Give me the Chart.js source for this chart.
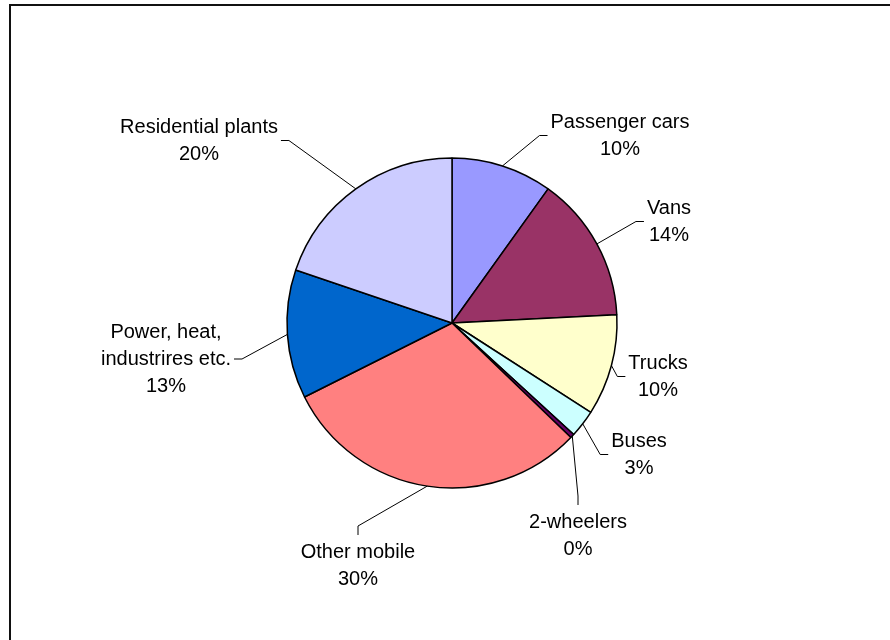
<!DOCTYPE html>
<html>
<head>
<meta charset="utf-8">
<script src="https://cdn.jsdelivr.net/npm/chart.js@4.4.1/dist/chart.umd.min.js"></script>
<style>
    html, body { margin: 0; padding: 0; background: #fff; }
    canvas { display: block; }
</style>
</head>
<body>
<canvas id="pieChart" width="890" height="640"></canvas>
<script>
// shares of emissions by source (%)
const sources = [
    'Passenger cars',
    'Vans',
    'Trucks',
    'Buses',
    '2-wheelers',
    'Other mobile',
    'Power, heat,\nindustrires etc.',
    'Residential plants'
];
const shares = [9.9, 14.3, 9.9, 2.7, 0.4, 30.4, 12.6, 19.8];
const sliceColors = ['#9999FF', '#993366', '#FFFFCC', '#CCFFFF', '#660066', '#FF8080', '#0066CC', '#CCCCFF'];

// where each label block sits, relative to the pie centre, and which side the leader comes in from
const labelSpots = [
    [168, -201, 'right'],
    [217, -115, 'right'],
    [206, 40, 'right'],
    [187, 118, 'right'],
    [126, 199, 'bottom'],
    [-94, 229, 'bottom'],
    [-286, 9, 'left'],
    [-253, -196, 'left']
];

const FONT = '20px "Liberation Sans", Arial, sans-serif';
const LINE_H = 27;

// thin frame along the top and left edge
const framePlugin = {
    id: 'frame',
    beforeDraw(chart) {
        const c = chart.ctx;
        c.save();
        c.fillStyle = '#111';
        c.fillRect(9, 4, chart.width, 2);
        c.fillRect(9, 4, 2, chart.height);
        c.restore();
    }
};

// category + percentage labels with elbow leader lines
const leaderLabels = {
    id: 'leaderLabels',
    afterDatasetsDraw(chart) {
        const c = chart.ctx;
        const meta = chart.getDatasetMeta(0);
        const values = chart.data.datasets[0].data;
        const total = values.reduce((a, b) => a + b, 0);

        c.save();
        c.font = FONT;
        c.fillStyle = '#000';
        c.strokeStyle = '#000';
        c.lineWidth = 1;
        c.textAlign = 'center';
        c.textBaseline = 'middle';

        meta.data.forEach((arc, i) => {
            const { x, y, startAngle, endAngle, outerRadius } = arc.getProps(['x', 'y', 'startAngle', 'endAngle', 'outerRadius'], true);
            const mid = (startAngle + endAngle) / 2;
            const ax = x + Math.cos(mid) * outerRadius;
            const ay = y + Math.sin(mid) * outerRadius;

            const lines = sources[i].split('\n');
            lines.push(Math.round(values[i] / total * 100) + '%');

            const [dx, dy, side] = labelSpots[i];
            const cx = x + dx;
            const top = y + dy;
            const w = Math.max(...lines.map(l => c.measureText(l).width));
            const midY = top + (lines.length - 1) * LINE_H / 2;

            let ex, ey, kx, ky;
            if (side === 'right') {
                ex = cx - w / 2 - 3; ey = midY;
                kx = ex - 8; ky = ey;
            } else if (side === 'left') {
                ex = cx + w / 2 + 3; ey = midY;
                kx = ex + 8; ky = ey;
            } else {
                ex = cx; ey = top - 17;
                kx = ex; ky = ey - 9;
            }

            c.beginPath();
            c.moveTo(ax, ay);
            c.lineTo(kx, ky);
            c.lineTo(ex, ey);
            c.stroke();

            lines.forEach((l, k) => c.fillText(l, cx, top + k * LINE_H));
        });
        c.restore();
    }
};

const options = {
    animation: false,
    responsive: false,
    events: [],
    layout: {
        padding: { left: 14, top: 6, right: 0, bottom: 0 }
    },
    plugins: {
        legend: { display: false },
        tooltip: { enabled: false }
    }
};

const data = {
    labels: sources,
    datasets: [{
        data: shares,
        backgroundColor: sliceColors,
        borderColor: '#000',
        borderWidth: 1.5,
        radius: 165
    }]
};

const ctx = document.getElementById('pieChart');

new Chart(ctx, {
    type: 'pie',
    data,
    options,
    plugins: [framePlugin, leaderLabels]
});
</script>
</body>
</html>
